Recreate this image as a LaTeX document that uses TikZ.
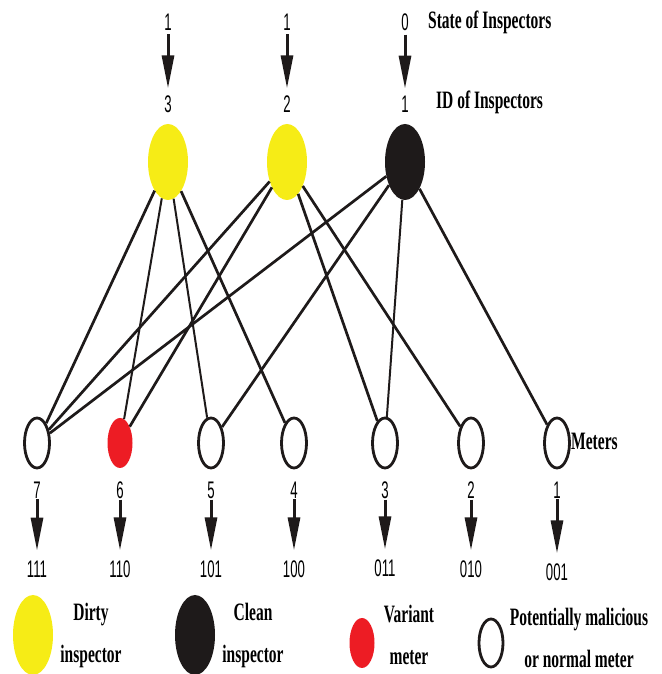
\documentclass[tikz,border=0pt]{standalone}
\usepackage{fontspec}
\setmainfont{Liberation Serif}
\newfontfamily\labfont{Liberation Serif}[FakeStretch=0.62]
\newfontfamily\digfont{Liberation Sans}[FakeStretch=0.55]
\usetikzlibrary{shapes.geometric,arrows.meta}
\definecolor{dirtyyellow}{RGB}{246,236,22}
\definecolor{variantred}{RGB}{237,28,36}
\definecolor{cleanblack}{RGB}{30,26,26}
\begin{document}
\begin{tikzpicture}[x=1pt,y=1pt,
  insp/.style={ellipse,minimum width=40pt,minimum height=76pt,inner sep=0pt},
  dirty/.style={insp,fill=dirtyyellow},
  clean/.style={insp,fill=cleanblack},
  meter/.style={ellipse,minimum width=25pt,minimum height=50pt,inner sep=0pt,draw=cleanblack,line width=2.8pt,fill=white},
  variant/.style={ellipse,minimum width=25pt,minimum height=50pt,inner sep=0pt,fill=variantred},
  dig/.style={font=\digfont\fontsize{24}{24}\selectfont,inner sep=0pt},
  lab/.style={font=\labfont\bfseries\fontsize{25}{42}\selectfont,inner sep=0pt,align=center},
  arr/.style={draw=cleanblack,line width=3pt,-{Triangle[length=33pt,width=12pt]}},
  edge/.style={draw=cleanblack,line width=2.7pt},
  thinedge/.style={draw=cleanblack,line width=2pt}]
\useasboundingbox (0,0) rectangle (661,674);
% inspectors
\node[dirty] (i3) at (168,512) {};
\node[dirty] (i2) at (287,512) {};
\node[clean] (i1) at (405,512) {};
% state and ID labels
\node[dig] (s3) at (168,652) {1};
\node[dig] (s2) at (287,652) {1};
\node[dig] (s1) at (405,652) {0};
\node[dig] (d3) at (168,570) {3};
\node[dig] (d2) at (287,570) {2};
\node[dig] (d1) at (405,570) {1};
\node[lab,anchor=west] (stt) at (428,652) {State of Inspectors};
\node[lab,anchor=west] (idt) at (436,572) {ID of Inspectors};
\foreach \k in {1,2,3}{
  \draw[arr,shorten <=4pt,shorten >=7pt] (s\k.south) -- (d\k.north);
}
% meters
\node[meter] (m7) at (37,231) {};
\node[variant] (m6) at (120,231) {};
\node[meter] (m5) at (211,231) {};
\node[meter] (m4) at (294,231) {};
\node[meter] (m3) at (385,231) {};
\node[meter] (m2) at (471,231) {};
\node[meter] (m1) at (557,231) {};
\node[lab,anchor=west] (mt) at (571,233) {Meters};
% edges
\draw[edge] (i3) -- (m7);
\draw[thinedge] (i3) -- (m6);
\draw[thinedge] (i3) -- (m5);
\draw[edge] (i3) -- (m4);
\draw[edge] (i2) -- (m7);
\draw[edge] (i2) -- (m6);
\draw[edge] (i2) -- (m3);
\draw[edge] (i2) -- (m2);
\draw[edge] (i1) -- (m7);
\draw[edge] (i1) -- (m5);
\draw[thinedge] (i1) -- (m3);
\draw[edge] (i1) -- (m1);
% meter labels and codes
\node[dig] (l7) at (37,184) {7};
\node[dig] (l6) at (120,184) {6};
\node[dig] (l5) at (211,184) {5};
\node[dig] (l4) at (294,184) {4};
\node[dig] (l3) at (385,184) {3};
\node[dig] (l2) at (471,184) {2};
\node[dig] (l1) at (557,184) {1};
\node[dig] (c7) at (37,105) {111};
\node[dig] (c6) at (120,105) {110};
\node[dig] (c5) at (211,105) {101};
\node[dig] (c4) at (294,105) {100};
\node[dig] (c3) at (385,106) {011};
\node[dig] (c2) at (471,105) {010};
\node[dig] (c1) at (557,102) {001};
\foreach \k in {1,...,7}{
  \draw[arr,shorten <=1pt,shorten >=10pt] (l\k.south) -- (c\k.north);
}
% legend
\node[insp,fill=dirtyyellow,minimum height=80pt] (ly) at (33,39) {};
\node[lab] (lyt) at (91,39) {Dirty\\inspector};
\node[insp,fill=cleanblack,minimum height=80pt] (lk) at (195,39) {};
\node[lab] (lkt) at (253,39) {Clean\\inspector};
\node[variant] (lr) at (362,31) {};
\node[lab] (lrt) at (409,39) {Variant\\meter};
\node[meter,minimum width=24pt,minimum height=48pt] (lw) at (491,31) {};
\node[lab] (lwt) at (579,36) {Potentially malicious\\or normal meter};
\end{tikzpicture}
\end{document}
